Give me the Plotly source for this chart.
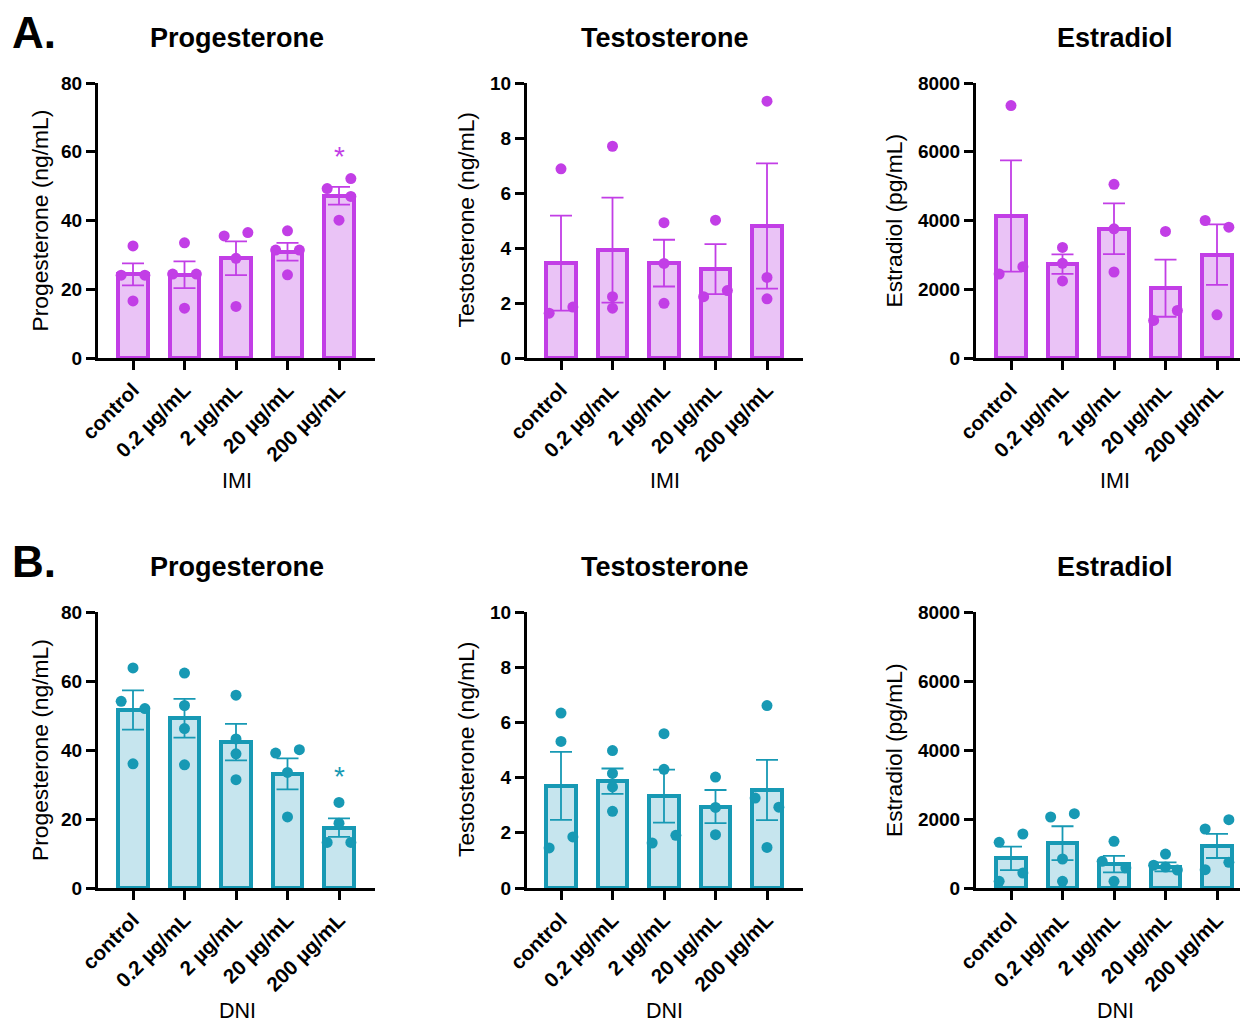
import plotly.graph_objects as go

# page offset: the figure div sits 8px inside the page body
OFF = 8
W, H = 1248 - OFF, 1025 - OFF
FONT = "Liberation Sans"

categories = ["control", "0.2 µg/mL", "2 µg/mL", "20 µg/mL", "200 µg/mL"]

# ---------- A. IMI ----------
imi_prog_mean = [24.3, 24.2, 29.0, 30.9, 47.2]
imi_prog_sem = [3.2, 3.9, 4.9, 2.6, 2.6]
imi_prog_pts = [[32.6, 24.1, 24.1, 16.6], [33.5, 24.4, 24.4, 14.5], [35.5, 36.5, 29.0, 15.0],
                [37.0, 31.4, 31.4, 24.2], [52.2, 49.3, 47.0, 40.1]]
imi_prog_jit = [[0, -1, 1, 0], [0, -1, 1, 0], [-1, 1, 0, 0], [0, -1, 1, 0], [1, -1, 1, 0]]

imi_test_mean = [3.45, 3.92, 3.45, 3.23, 4.80]
imi_test_sem = [1.73, 1.91, 0.85, 0.91, 2.28]
imi_test_pts = [[6.88, 1.63, 1.85], [7.70, 2.23, 1.81], [4.92, 3.44, 1.99],
                [5.01, 2.23, 2.45], [9.34, 2.93, 2.15]]
imi_test_jit = [[0, -1, 1], [0, 0, 0], [0, 0, 0], [0, -1, 1], [0, 0, 0]]

imi_est_mean = [4130, 2730, 3760, 2030, 3010]
imi_est_sem = [1620, 285, 740, 830, 880]
imi_est_pts = [[7343, 2444, 2657], [3217, 2754, 2242], [5053, 3758, 2502],
               [3681, 1092, 1382], [4000, 3807, 1256]]
imi_est_jit = [[0, -1, 1], [0, 0, 0], [0, 0, 0], [0, -1, 1], [-1, 1, 0]]

# ---------- B. DNI ----------
dni_prog_mean = [51.6, 49.2, 42.3, 33.1, 17.5]
dni_prog_sem = [5.7, 5.6, 5.3, 4.5, 2.7]
dni_prog_pts = [[63.8, 54.1, 52.0, 36.0], [62.3, 52.9, 46.2, 35.7], [55.9, 43.2, 38.9, 31.4],
                [39.1, 40.1, 33.5, 20.6], [24.8, 18.8, 13.2, 13.2]]
dni_prog_jit = [[0, -1, 1, 0], [0, 0, 0, 0], [0, 0, 0, 0], [-1, 1, 0, 0], [0, 0, -1, 1]]

dni_test_mean = [3.70, 3.87, 3.33, 2.95, 3.55]
dni_test_sem = [1.23, 0.46, 0.96, 0.60, 1.09]
dni_test_pts = [[6.34, 5.31, 1.85, 1.45], [4.98, 4.15, 3.66, 2.78], [5.59, 4.30, 1.91, 1.63],
                [4.02, 2.92, 1.93], [6.61, 3.26, 2.93, 1.47]]
dni_test_jit = [[0, 0, 1, -1], [0, 0, 0, 0], [0, 0, 1, -1], [0, 0, 0], [0, -1, 1, 0]]

dni_est_mean = [860, 1300, 690, 610, 1220]
dni_est_sem = [340, 490, 240, 130, 350]
dni_est_pts = [[1324, 1565, 435, 193], [2058, 2155, 841, 193], [1353, 773, 580, 193],
               [985, 660, 609, 522], [1710, 1981, 744, 531]]
dni_est_jit = [[-1, 1, 1, -1], [-1, 1, 0, 0], [0, -1, 1, 0], [0, -1, 0, 1], [-1, 1, 1, -1]]

hormones = ["Progesterone", "Testosterone", "Estradiol"]
ytitles = ["Progesterone (ng/mL)", "Testosterone (ng/mL)", "Estradiol (pg/mL)"]
yranges = [80, 10, 8000]
ydticks = [20, 2, 2000]

PURPLE = "#c23ee6"
PURPLE_FILL = "#eac3f6"
TEAL = "#1799b4"
TEAL_FILL = "#c6e5ee"

# pixel layout (page coordinates)
xpix = [(98, 375, 133), (527, 803, 561), (976, 1248, 1011)]
ypix = [(83, 358), (612, 888)]
SPACING = 51.5
JIT = 0.23


def fx(p):
    return (p - OFF) / W


def fy(p):
    return 1 - (p - OFF) / H


rows = [
    dict(means=[imi_prog_mean, imi_test_mean, imi_est_mean], sems=[imi_prog_sem, imi_test_sem, imi_est_sem],
         pts=[imi_prog_pts, imi_test_pts, imi_est_pts], jit=[imi_prog_jit, imi_test_jit, imi_est_jit],
         line=PURPLE, fill=PURPLE_FILL, xlabel="IMI", letter="A.", star=59.8),
    dict(means=[dni_prog_mean, dni_test_mean, dni_est_mean], sems=[dni_prog_sem, dni_test_sem, dni_est_sem],
         pts=[dni_prog_pts, dni_test_pts, dni_est_pts], jit=[dni_prog_jit, dni_test_jit, dni_est_jit],
         line=TEAL, fill=TEAL_FILL, xlabel="DNI", letter="B.", star=33.5),
]

fig = go.Figure()
annotations = []
layout_axes = {}
ytitle_x = [40, 466, 894]
title_x = [237, 665, 1115]

for r, row in enumerate(rows):
    top, bot = ypix[r]
    for c in range(3):
        idx = r * 3 + c + 1
        xa = "x" if idx == 1 else f"x{idx}"
        ya = "y" if idx == 1 else f"y{idx}"
        x0, x1, xc = xpix[c]
        rng = [-(xc - x0) / SPACING, (x1 - xc) / SPACING]
        cats = list(range(5))
        fig.add_trace(go.Bar(
            x=cats, y=row["means"][c], width=0.58,
            marker=dict(color=row["fill"], line=dict(color=row["line"], width=4)),
            error_y=dict(type="data", array=row["sems"][c], visible=True,
                         color=row["line"], thickness=1.8, width=11),
            xaxis=xa, yaxis=ya, showlegend=False, hoverinfo="skip"))
        px, py = [], []
        for i, (vals, js) in enumerate(zip(row["pts"][c], row["jit"][c])):
            for v, j in zip(vals, js):
                px.append(i + j * JIT)
                py.append(v)
        fig.add_trace(go.Scatter(
            x=px, y=py, mode="markers", cliponaxis=False,
            marker=dict(color=row["line"], size=11, line=dict(width=0)),
            xaxis=xa, yaxis=ya, showlegend=False, hoverinfo="skip"))

        xkey = "xaxis" if idx == 1 else f"xaxis{idx}"
        ykey = "yaxis" if idx == 1 else f"yaxis{idx}"
        layout_axes[xkey] = dict(
            domain=[fx(x0), min(fx(x1), 1.0)], anchor=ya, range=rng, automargin=False,
            tickmode="array", tickvals=cats, ticktext=categories, tickangle=-45,
            tickfont=dict(family=FONT, size=20.5, color="black", weight="bold"),
            showline=True, linewidth=3, linecolor="black", mirror=False,
            ticks="outside", ticklen=9, tickwidth=3, tickcolor="black",
            showgrid=False, zeroline=False, fixedrange=True)
        layout_axes[ykey] = dict(
            domain=[fy(bot), fy(top)], anchor=xa, range=[0, yranges[c]], automargin=False,
            tickmode="linear", tick0=0, dtick=ydticks[c],
            tickfont=dict(family=FONT, size=19, color="black", weight="bold"),
            showline=True, linewidth=3, linecolor="black",
            ticks="outside", ticklen=9, tickwidth=3, tickcolor="black",
            showgrid=False, zeroline=False, fixedrange=True)

        annotations.append(dict(text=f"<b>{hormones[c]}</b>", x=fx(title_x[c]),
                                y=fy(top - 45), xref="paper", yref="paper",
                                xanchor="center", yanchor="middle", showarrow=False,
                                font=dict(family=FONT, size=27, color="black")))
        annotations.append(dict(text=ytitles[c], x=fx(ytitle_x[c]), y=fy((top + bot) / 2),
                                xref="paper", yref="paper", textangle=-90,
                                xanchor="center", yanchor="middle", showarrow=False,
                                font=dict(family=FONT, size=22.8, color="black")))
        annotations.append(dict(text=row["xlabel"], x=fx(title_x[c]),
                                y=fy(bot + 123), xref="paper", yref="paper",
                                xanchor="center", yanchor="middle", showarrow=False,
                                font=dict(family=FONT, size=21.5, color="black")))
        if c == 0:
            annotations.append(dict(text="*", x=4, y=row["star"], xref=xa, yref=ya,
                                    xanchor="center", yanchor="middle", showarrow=False,
                                    yshift=-4,
                                    font=dict(family=FONT, size=28, color=row["line"])))
    annotations.append(dict(text=f"<b>{row['letter']}</b>", x=fx(10), y=fy(top - 51),
                            xref="paper", yref="paper", xanchor="left", yanchor="middle",
                            showarrow=False, font=dict(family=FONT, size=44, color="black")))

fig.update_layout(width=W, height=H, margin=dict(l=0, r=0, t=0, b=0, autoexpand=False),
                  template="none",
                  paper_bgcolor="white", plot_bgcolor="white",
                  bargap=0, annotations=annotations, **layout_axes)

fig.write_html("out.html", config={"displayModeBar": False})
